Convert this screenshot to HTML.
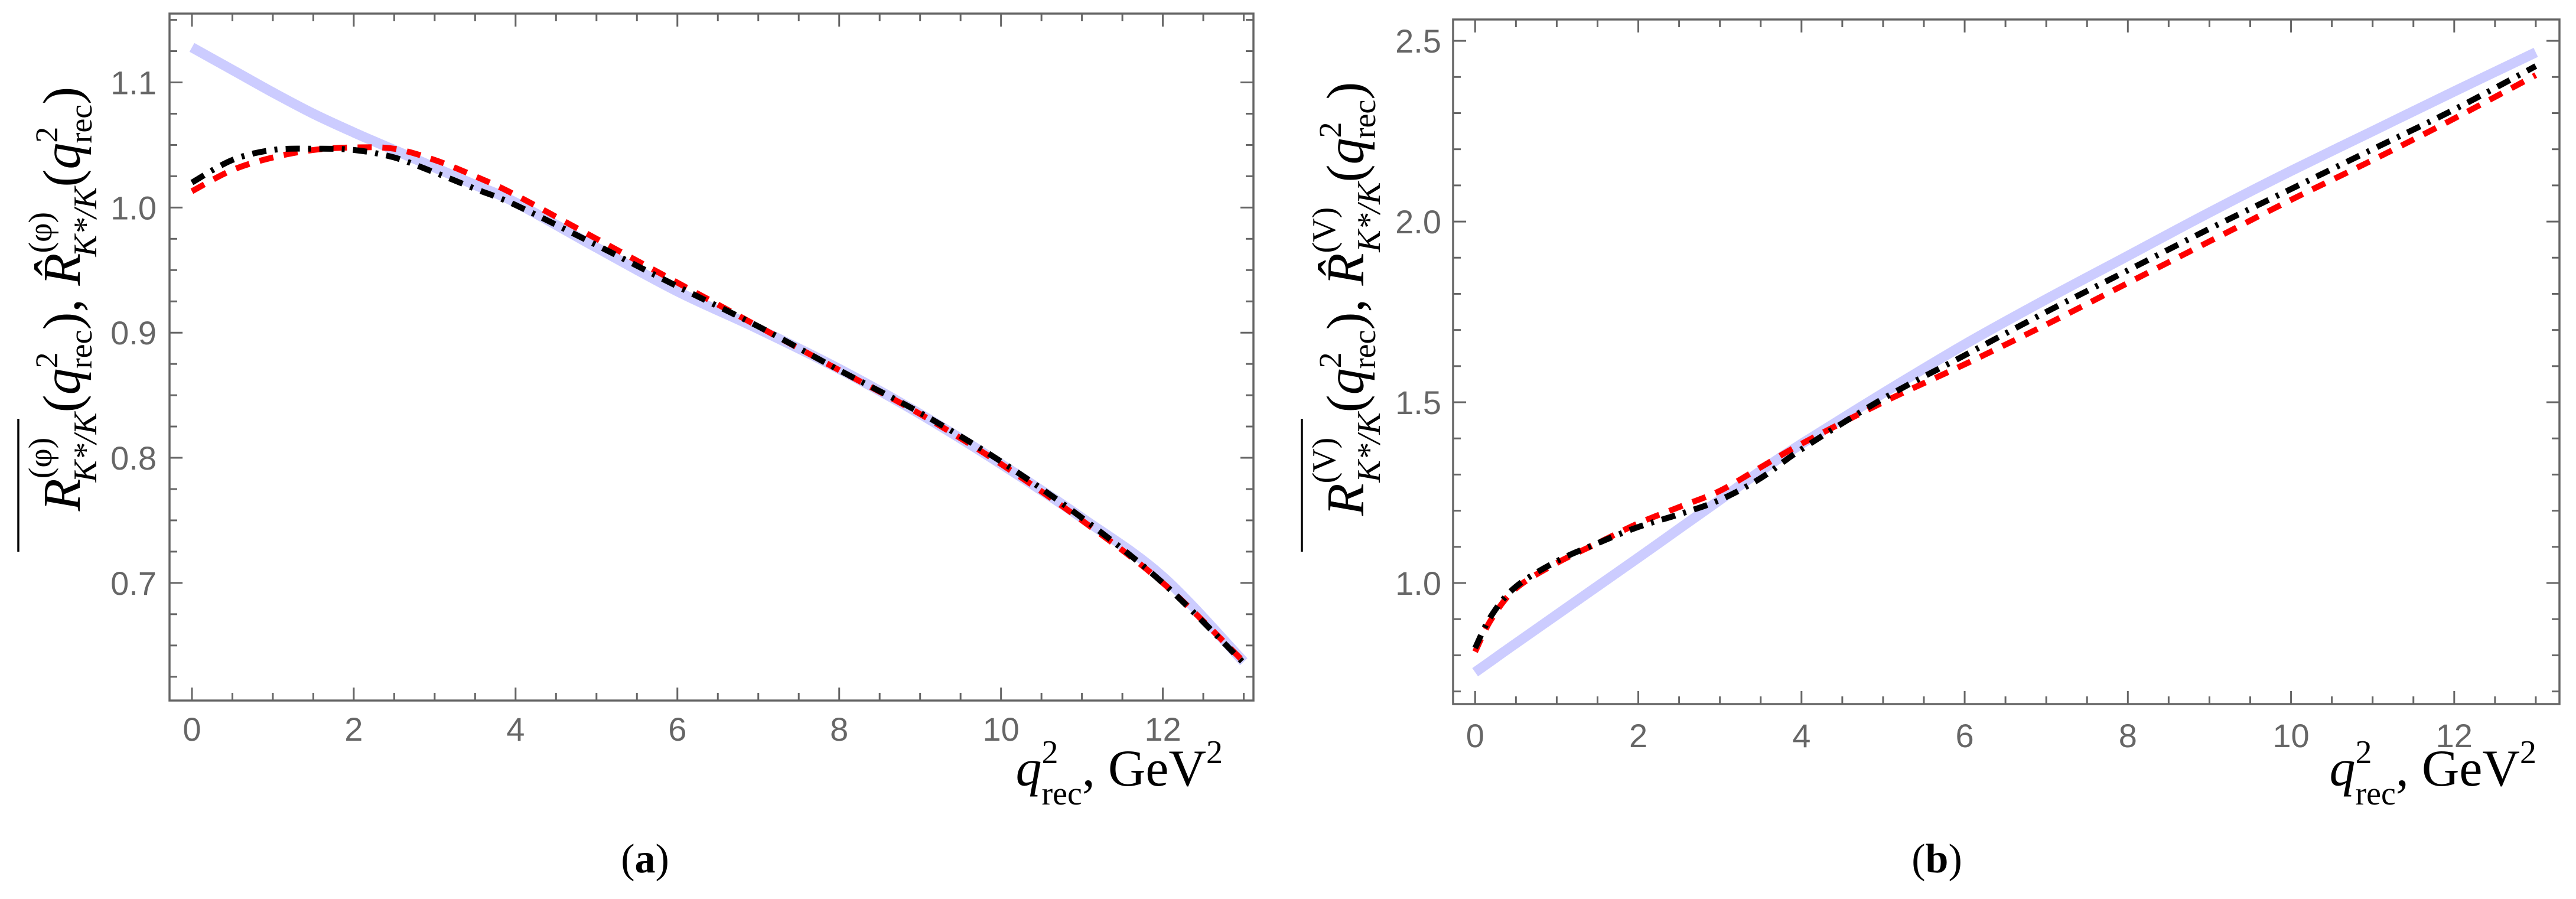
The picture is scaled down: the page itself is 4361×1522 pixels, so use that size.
<!DOCTYPE html>
<html><head><meta charset="utf-8"><style>
html,body{margin:0;padding:0;background:#fff}
svg{display:block}
</style></head><body>
<svg id="chart" width="4361" height="1522" viewBox="0 0 4361 1522" xmlns="http://www.w3.org/2000/svg">
<g id="pa"></g>
<g id="pb"></g>
<text x="1092" y="1477" font-family="Liberation Serif, serif" font-size="70" text-anchor="middle">(<tspan font-weight="bold">a</tspan>)</text>
<text x="3279" y="1477" font-family="Liberation Serif, serif" font-size="70" text-anchor="middle">(<tspan font-weight="bold">b</tspan>)</text>
</svg>
<script>
const NS='http://www.w3.org/2000/svg';
// ---- data panel a ----
const xA=[0,0.5,1,1.5,2,2.5,3,3.5,4,5,6,7,8,9,10,11,12,13];
const blueA=[1.128,1.110,1.092,1.075,1.060,1.046,1.032,1.018,1.004,0.968,0.933,0.903,0.871,0.835,0.795,0.752,0.705,0.637];
const redA=[1.013,1.030,1.040,1.046,1.048,1.047,1.038,1.025,1.010,0.975,0.940,0.905,0.870,0.835,0.795,0.750,0.700,0.637];
const blackA=[1.020,1.038,1.046,1.047,1.046,1.040,1.028,1.015,1.002,0.970,0.937,0.905,0.870,0.836,0.797,0.752,0.700,0.636];
const yTicksA=['0.7','0.8','0.9','1.0','1.1'];
// ---- data panel b ----
const xB=[0,0.2,0.5,1,1.5,2,2.5,3,3.5,4,5,6,7,8,9,10,11,12,13];
const blueB=[0.753,0.785,0.833,0.912,0.991,1.070,1.150,1.230,1.310,1.385,1.525,1.660,1.785,1.905,2.025,2.140,2.250,2.360,2.468];
const redB=[0.810,0.900,0.985,1.055,1.110,1.165,1.210,1.255,1.320,1.385,1.500,1.605,1.715,1.830,1.945,2.060,2.170,2.285,2.405];
const blackB=[0.820,0.910,0.990,1.060,1.110,1.155,1.190,1.230,1.290,1.370,1.510,1.630,1.750,1.865,1.980,2.090,2.200,2.310,2.430];
const yTicksB=['1.0','1.5','2.0','2.5'];
const xTicks=['0','2','4','6','8','10','12'];

function el(tag,attrs,parent){const e=document.createElementNS(NS,tag);for(const k in attrs)e.setAttribute(k,attrs[k]);parent.appendChild(e);return e;}

function smoothPath(P){
  let d='M'+P[0][0].toFixed(1)+','+P[0][1].toFixed(1);
  for(let i=0;i<P.length-1;i++){
    const p0=P[Math.max(i-1,0)],p1=P[i],p2=P[i+1],p3=P[Math.min(i+2,P.length-1)];
    const c1=[p1[0]+(p2[0]-p0[0])/6,p1[1]+(p2[1]-p0[1])/6];
    const c2=[p2[0]-(p3[0]-p1[0])/6,p2[1]-(p3[1]-p1[1])/6];
    d+=` C${c1[0].toFixed(1)},${c1[1].toFixed(1)} ${c2[0].toFixed(1)},${c2[1].toFixed(1)} ${p2[0].toFixed(1)},${p2[1].toFixed(1)}`;
  }
  return d;
}

function panel(g,cfg){
  const sx=v=>cfg.x0+(v-cfg.xmin)/(cfg.xmax-cfg.xmin)*(cfg.x1-cfg.x0);
  const sy=v=>cfg.y1-(v-cfg.ymin)/(cfg.ymax-cfg.ymin)*(cfg.y1-cfg.y0);
  const gray='#666';
  for(let k=0;k<=26;k++){const v=k*0.5;const X=sx(v);const maj=(k%4==0);const L=maj?22:13;
    const t1=el('line',{x1:X,x2:X,y1:cfg.y1,y2:cfg.y1-L,stroke:gray,'stroke-width':3},g);
    
    const t2=el('line',{x1:X,x2:X,y1:cfg.y0,y2:cfg.y0+L,stroke:gray,'stroke-width':3},g);
    
  }
  xTicks.forEach(s=>{const t=el('text',{x:sx(+s),y:cfg.xlabY,'font-family':'Liberation Sans, sans-serif','font-size':56,fill:gray,'text-anchor':'middle'},g);t.textContent=s;
    });
  const step=cfg.minor;const n0=Math.ceil(cfg.ymin/step),n1=Math.floor(cfg.ymax/step);
  for(let k=n0;k<=n1;k++){const v=k*step;const Y=sy(v);const maj=Math.abs(v/cfg.major-Math.round(v/cfg.major))<1e-6;const L=maj?22:13;
    const t1=el('line',{x1:cfg.x0,x2:cfg.x0+L,y1:Y,y2:Y,stroke:gray,'stroke-width':3},g);
    
    const t2=el('line',{x1:cfg.x1,x2:cfg.x1-L,y1:Y,y2:Y,stroke:gray,'stroke-width':3},g);
    }
  cfg.yTicks.forEach(s=>{const t=el('text',{x:cfg.ylabX,y:sy(+s)+20,'font-family':'Liberation Sans, sans-serif','font-size':56,fill:gray,'text-anchor':'end'},g);t.textContent=s;
    });
  const pts=(xs,ys)=>xs.map((x,i)=>[sx(x),sy(ys[i])]);
  const b=el('path',{d:smoothPath(pts(cfg.xs,cfg.blue)),fill:'none',stroke:'#ccccff','stroke-width':17},g);
  
  const r=el('path',{d:smoothPath(pts(cfg.xs,cfg.red)),fill:'none',stroke:'#ff0000','stroke-width':10,'stroke-dasharray':'24 18'},g);
  
  const k=el('path',{d:smoothPath(pts(cfg.xs,cfg.black)),fill:'none',stroke:'#000','stroke-width':10,'stroke-dasharray':'24 14 5 14'},g);
  
  const f=el('rect',{x:cfg.x0,y:cfg.y0,width:cfg.x1-cfg.x0,height:cfg.y1-cfg.y0,fill:'none',stroke:gray,'stroke-width':3.5},g);
  
  const xt=el('text',{x:cfg.xtEnd,y:1330,'font-family':'Liberation Serif, serif','font-size':88,'text-anchor':'end'},g);
  
  xt.innerHTML='<tspan font-style="italic">q</tspan><tspan font-size="56" dy="-38">2</tspan><tspan font-size="56" dx="-28" dy="70">rec</tspan><tspan dy="-32">, GeV</tspan><tspan font-size="56" dy="-38">2</tspan>';
  const yg=el('g',{transform:`translate(${cfg.ytX},${cfg.ytY}) rotate(-90)`},g);
  
  const yt=el('text',{x:0,y:0,'font-family':'Liberation Serif, serif','font-size':90,'text-anchor':'middle'},yg);
  const s=cfg.sup;
  yt.innerHTML=`<tspan font-style="italic">R</tspan><tspan font-size="56" dy="-48">(${s})</tspan><tspan font-size="56" dx="-76" dy="76" font-style="italic">K*/K</tspan><tspan dy="-28">(</tspan><tspan font-style="italic">q</tspan><tspan font-size="54" dy="-38">2</tspan><tspan font-size="54" dx="-28" dy="58">rec</tspan><tspan dy="-20">),  </tspan><tspan font-style="italic">R̂</tspan><tspan font-size="56" dy="-48">(${s})</tspan><tspan font-size="56" dx="-76" dy="76" font-style="italic">K*/K</tspan><tspan dy="-28">(</tspan><tspan font-style="italic">q</tspan><tspan font-size="54" dy="-38">2</tspan><tspan font-size="54" dx="-28" dy="58">rec</tspan><tspan dy="-20">)</tspan>`;
  const ol=el('line',{x1:-428,x2:-203,y1:-104,y2:-104,stroke:'#000','stroke-width':3.5},yg);
  
}
panel(document.getElementById('pa'),{x0:287,x1:2122,y0:23,y1:1186,xmin:-0.277,xmax:13.12,ymin:0.606,ymax:1.155,
  minor:0.025,major:0.1,yTicks:yTicksA,xs:xA,blue:blueA,red:redA,black:blackA,xlabY:1254,ylabX:265,xtEnd:2070,ytX:135,ytY:506,sup:'φ'});
panel(document.getElementById('pb'),{x0:2460,x1:4333,y0:33,y1:1192,xmin:-0.27,xmax:13.29,ymin:0.665,ymax:2.559,
  minor:0.1,major:0.5,yTicks:yTicksB,xs:xB,blue:blueB,red:redB,black:blackB,xlabY:1265,ylabX:2440,xtEnd:4294,ytX:2308,ytY:506,sup:'V'});
</script>
</body></html>
